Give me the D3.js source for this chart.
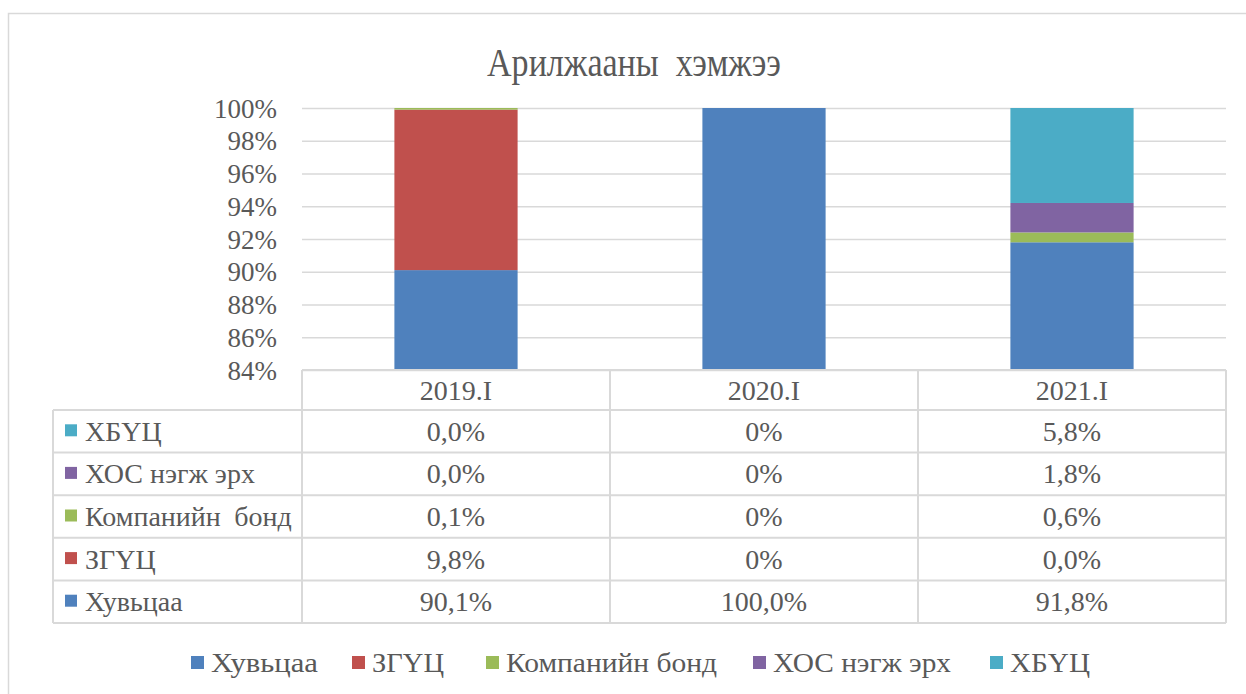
<!DOCTYPE html>
<html lang="mn">
<head>
<meta charset="UTF-8">
<title>Арилжааны хэмжээ</title>
<style>
  body { margin: 0; background: #fff; }
</style>
</head>
<body>
<div id="chart"></div>
<script src="https://d3js.org/d3.v7.min.js"></script>
<script>
// data
var periods = ['2019.I', '2020.I', '2021.I'];
var seriesNames = ['Хувьцаа', 'ЗГҮЦ', 'Компанийн бонд', 'ХОС нэгж эрх', 'ХБҮЦ'];
var seriesColors = ['#4F81BD', '#C0504D', '#9BBB59', '#8064A2', '#4BACC6'];
var hubtsaa = [90.1, 100, 91.8];
var zguts = [9.8, 0, 0.0];
var companyBond = [0.1, 0, 0.6];
var hosErh = [0.0, 0, 1.8];
var hbuts = [0.0, 0, 5.8];
// labels as printed in the table
var tableLabels = [
  ['90,1%', '100,0%', '91,8%'],
  ['9,8%', '0%', '0,0%'],
  ['0,1%', '0%', '0,6%'],
  ['0,0%', '0%', '1,8%'],
  ['0,0%', '0%', '5,8%']
];
var yTicks = [84, 86, 88, 90, 92, 94, 96, 98, 100];

var W = 1246, H = 694;
var FONT = 'Liberation Serif';
var TXT = '#595959';
var BASE = 26; // render size; larger text is scaled up from it
var plot = { left: 302, right: 1226, top: 108, bottom: 370 };
var tableLeft = 53, rowH = 42.6;

var svg = d3.select('#chart').append('svg')
  .attr('width', W).attr('height', H);

// chart frame
svg.append('rect')
  .attr('x', 8.5).attr('y', 13.5)
  .attr('width', W + 10).attr('height', H + 10)
  .attr('fill', 'none').attr('stroke', '#d9d9d9').attr('stroke-width', 1.5);

var rows = periods.map(function (p, i) {
  return {
    period: p,
    'Хувьцаа': hubtsaa[i],
    'ЗГҮЦ': zguts[i],
    'Компанийн бонд': companyBond[i],
    'ХОС нэгж эрх': hosErh[i],
    'ХБҮЦ': hbuts[i]
  };
});

var stacked = d3.stack().keys(seriesNames)
  .offset(d3.stackOffsetExpand)(rows);

var x = d3.scaleBand().domain(periods)
  .range([plot.left, plot.right]).paddingInner(0.6).paddingOuter(0.3);
var xCol = d3.scaleBand().domain(periods).range([plot.left, plot.right]);

var y = d3.scaleLinear().domain([0.84, 1]).range([plot.bottom, plot.top]);

// gridlines
svg.append('g')
  .attr('transform', 'translate(' + plot.left + ',0)')
  .call(d3.axisLeft(y).tickValues(yTicks.map(function (t) { return t / 100; }))
    .tickSize(-(plot.right - plot.left)).tickFormat(''))
  .call(function (g) {
    g.select('.domain').remove();
    g.selectAll('line').attr('stroke', '#d9d9d9').attr('stroke-width', 1.5);
  });

// y labels
svg.append('g')
  .attr('transform', 'translate(' + 277 + ',0)')
  .call(d3.axisLeft(y).tickValues(yTicks.map(function (t) { return t / 100; }))
    .tickSize(0).tickPadding(0).tickFormat(function (d) { return Math.round(d * 100) + '%'; }))
  .call(function (g) {
    g.select('.domain').remove();
    g.selectAll('text').attr('font-size', 27).attr('x', 0).attr('y', 0).attr('dy', '0.34em');
  });

// bars
svg.append('clipPath').attr('id', 'plotclip')
  .append('rect').attr('x', plot.left).attr('y', plot.top - 2)
  .attr('width', plot.right - plot.left).attr('height', plot.bottom - plot.top + 2);

var bars = svg.append('g').attr('clip-path', 'url(#plotclip)');
stacked.forEach(function (layer, si) {
  bars.selectAll('.b' + si)
    .data(layer)
    .join('rect')
    .attr('x', function (d) { return x(d.data.period); })
    .attr('width', x.bandwidth())
    .attr('y', function (d) { return y(d[1]); })
    .attr('height', function (d) { return Math.max(0, y(d[0]) - y(d[1])); })
    .attr('fill', seriesColors[si]);
});

// data table
var tbl = svg.append('g');
var headerTop = plot.bottom;
var bodyTop = 410;
var tableBottom = bodyTop + rowH * seriesNames.length;

// horizontal lines
tbl.append('line').attr('x1', plot.left).attr('x2', plot.right)
  .attr('y1', headerTop).attr('y2', headerTop);
for (var r = 0; r <= seriesNames.length; r++) {
  tbl.append('line').attr('x1', tableLeft).attr('x2', plot.right)
    .attr('y1', bodyTop + r * rowH).attr('y2', bodyTop + r * rowH);
}
// vertical lines
tbl.append('line').attr('x1', tableLeft).attr('x2', tableLeft)
  .attr('y1', bodyTop).attr('y2', tableBottom);
periods.forEach(function (p) {
  tbl.append('line').attr('x1', xCol(p)).attr('x2', xCol(p))
    .attr('y1', headerTop).attr('y2', tableBottom);
});
tbl.append('line').attr('x1', plot.right).attr('x2', plot.right)
  .attr('y1', headerTop).attr('y2', tableBottom);
tbl.selectAll('line').attr('stroke', '#d9d9d9').attr('stroke-width', 2);

// header labels
periods.forEach(function (p) {
  tbl.append('text')
    .attr('x', xCol(p) + xCol.bandwidth() / 2)
    .attr('y', headerTop + 20).attr('dy', '0.34em')
    .attr('text-anchor', 'middle')
    .text(p);
});

// rows: top row is the last series
var order = seriesNames.map(function (n, i) { return i; }).reverse();
order.forEach(function (si, r) {
  var cy = bodyTop + r * rowH + rowH / 2;
  tbl.append('rect').attr('x', tableLeft + 12).attr('y', cy - 7)
    .attr('width', 12).attr('height', 12).attr('fill', seriesColors[si]);
  tbl.append('text').attr('x', tableLeft + 32).attr('y', cy).attr('dy', '0.34em')
    .attr('word-spacing', si === 2 ? 6 : 0)
    .text(seriesNames[si]);
  periods.forEach(function (p, pi) {
    tbl.append('text')
      .attr('x', xCol(p) + xCol.bandwidth() / 2).attr('y', cy).attr('dy', '0.34em')
      .attr('text-anchor', 'middle')
      .text(tableLabels[si][pi]);
  });
});

// legend
var legendX = [191, 352, 486, 753, 990];
var legendW = [107, 72, 211, 178, 80];
var legend = svg.append('g');
seriesNames.forEach(function (n, i) {
  legend.append('rect').attr('x', legendX[i]).attr('y', 656)
    .attr('width', 13).attr('height', 13).attr('fill', seriesColors[i]);
  legend.append('text').attr('x', legendX[i] + 20).attr('y', 662).attr('dy', '0.34em')
    .attr('data-w', legendW[i])
    .text(n);
});

// common text styling: draw at BASE size and scale up, so the serif face is kept
svg.selectAll('text')
  .attr('font-family', FONT)
  .attr('fill', TXT)
  .each(function () {
    var t = d3.select(this);
    var sz = +(t.attr('font-size') || 28);
    var k = sz / BASE;
    var tx = +(t.attr('x') || 0), ty = +(t.attr('y') || 0);
    t.attr('font-size', BASE)
      .attr('transform', 'translate(' + tx + ',' + ty + ') scale(' + k + ') translate(' + (-tx) + ',' + (-ty) + ')');
    if (t.attr('data-w')) {
      t.attr('textLength', +t.attr('data-w') / k).attr('lengthAdjust', 'spacingAndGlyphs');
    }
  });

// title (condensed, tall)
svg.append('text')
  .attr('x', 487).attr('y', 76)
  .attr('font-family', FONT).attr('fill', TXT)
  .attr('font-size', 40)
  .attr('textLength', 294).attr('lengthAdjust', 'spacingAndGlyphs')
  .attr('xml:space', 'preserve')
  .text('Арилжааны  хэмжээ');
</script>
</body>
</html>
